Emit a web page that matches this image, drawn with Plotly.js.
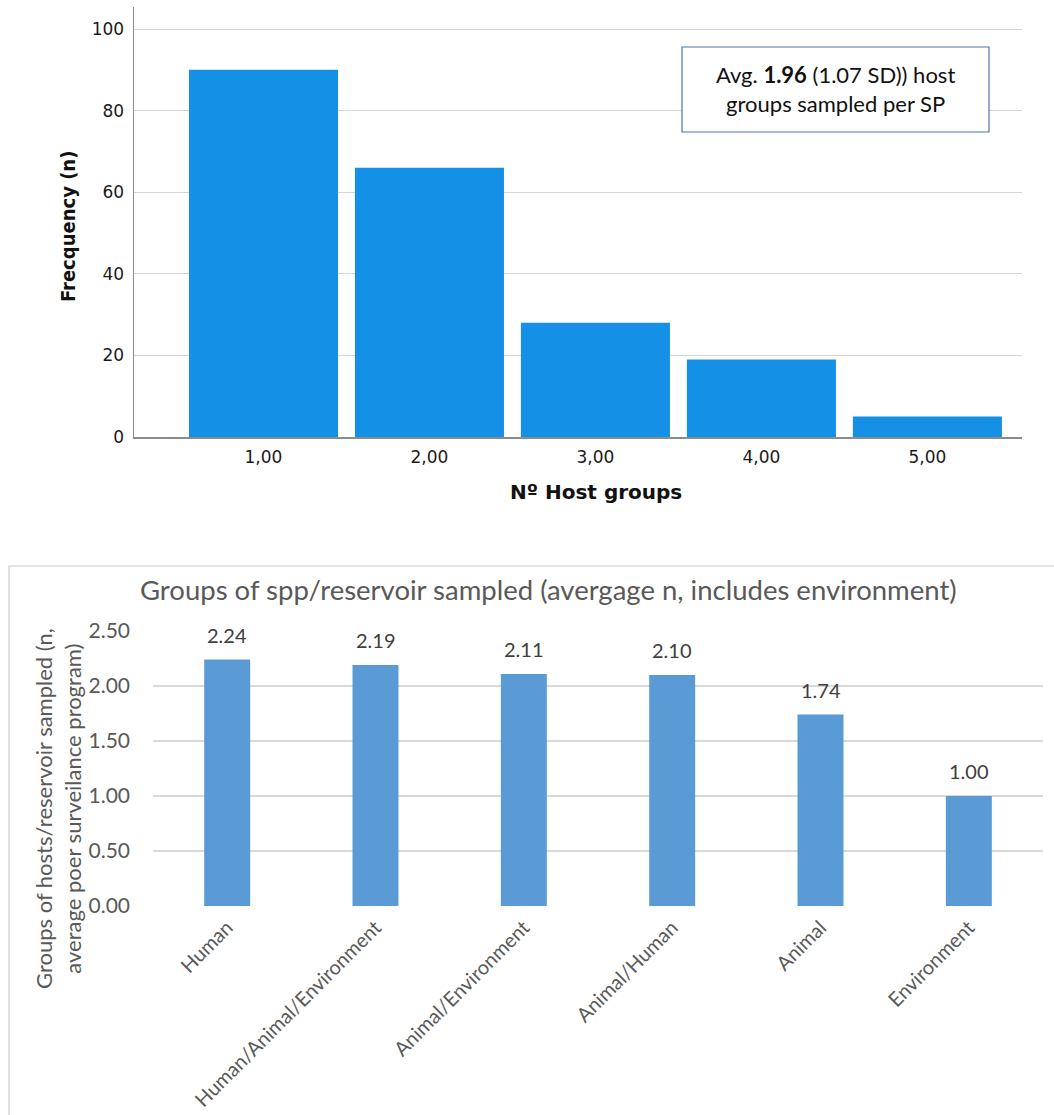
<!DOCTYPE html>
<html>
<head>
<meta charset="utf-8">
<script src="https://cdn.plot.ly/plotly-3.0.1.min.js"></script>
<style>html,body{margin:0;padding:0;background:#fff;}#chart{width:1054px;height:1115px;}</style>
</head>
<body>
<div id="chart"></div>
<script>
// Top chart: frequency of number of host groups
const hostGroupCats = ["1,00", "2,00", "3,00", "4,00", "5,00"];
const hostGroupFreq = [90, 66, 28, 19, 5];
const topYTicks = [0, 20, 40, 60, 80, 100];

// Bottom chart: average groups of hosts/reservoir sampled
const reservoirCats = ["Human", "Human/Animal/Environment", "Animal/Environment", "Animal/Human", "Animal", "Environment"];
const reservoirAvg = [2.24, 2.19, 2.11, 2.10, 1.74, 1.00];
const bottomYTicks = [0, 0.5, 1.0, 1.5, 2.0, 2.5];

const W = 1054, H = 1115;
const px = x => x / W;
const py = y => 1 - y / H;

const SPSS_FONT = "'DejaVu Sans', sans-serif";
const SPSS_COND = "'DejaVu Sans Condensed', 'DejaVu Sans', sans-serif";
const XL_FONT = "Lato, sans-serif";

const traces = [
  {
    type: "bar", x: hostGroupCats, y: hostGroupFreq,
    xaxis: "x", yaxis: "y",
    width: 0.898,
    marker: {color: "#1490e6", line: {width: 0}},
    hoverinfo: "skip", showlegend: false
  },
  {
    type: "bar", x: reservoirCats, y: reservoirAvg,
    xaxis: "x2", yaxis: "y2",
    width: 0.31,
    marker: {color: "#5b9bd5", line: {width: 0}},
    hoverinfo: "skip", showlegend: false
  }
];

const dataLabels = reservoirCats.map((c, i) => ({
  xref: "x2", yref: "y2", x: c, y: reservoirAvg[i],
  text: reservoirAvg[i].toFixed(2),
  showarrow: false, xanchor: "center", yanchor: "bottom", yshift: 11,
  font: {family: XL_FONT, size: 20, color: "#404040"}
}));

const layout = {
  width: W, height: H,
  margin: {l: 0, r: 0, t: 0, b: 0},
  paper_bgcolor: "#ffffff", plot_bgcolor: "#ffffff",
  showlegend: false,
  xaxis: {
    domain: [px(134), px(1022)],
    range: [-0.78, 4.57],
    type: "category",
    showgrid: false, zeroline: false,
    showline: true, linecolor: "#8c8c8c", linewidth: 1.5,
    ticks: "", ticklabelstandoff: 4,
    tickfont: {family: SPSS_FONT, size: 17, color: "#1a1a1a"},
    fixedrange: true
  },
  yaxis: {
    domain: [py(437), py(7)],
    range: [0, 105.4],
    tickvals: topYTicks,
    showgrid: true, gridcolor: "#d4d4d4", gridwidth: 1,
    zeroline: false,
    showline: true, linecolor: "#8c8c8c", linewidth: 1.5,
    ticks: "", ticklabelstandoff: 5,
    tickfont: {family: SPSS_FONT, size: 17, color: "#1a1a1a"},
    fixedrange: true
  },
  xaxis2: {
    domain: [px(153), px(1043)],
    range: [-0.5, 5.5],
    type: "category",
    anchor: "y2",
    showgrid: false, zeroline: false, showline: false,
    ticks: "", tickangle: -45, ticklabelstandoff: 5,
    tickfont: {family: XL_FONT, size: 20, color: "#595959"},
    fixedrange: true
  },
  yaxis2: {
    domain: [py(906), py(631)],
    range: [0, 2.5],
    anchor: "x2",
    tickvals: bottomYTicks,
    tickformat: ".2f",
    showgrid: true, gridcolor: "#d9d9d9", gridwidth: 1.5,
    zeroline: false, showline: false,
    ticks: "", ticklabelstandoff: 22,
    tickfont: {family: XL_FONT, size: 21, color: "#595959"},
    fixedrange: true
  },
  shapes: [
    {type: "rect", xref: "paper", yref: "paper",
     x0: px(682), x1: px(989), y0: py(132), y1: py(47),
     line: {color: "#4a76a8", width: 1.2}, fillcolor: "#ffffff", layer: "above"},
    {type: "rect", xref: "paper", yref: "paper",
     x0: px(9), x1: px(1070), y0: py(1130), y1: py(566),
     line: {color: "#d9d9d9", width: 1.5}, fillcolor: "rgba(0,0,0,0)", layer: "below"}
  ],
  annotations: [
    {xref: "paper", yref: "paper", x: px(835.5), y: py(89.5),
     text: "Avg. <b>1.96</b> (1.07 SD)) host<br>groups sampled per SP",
     showarrow: false, xanchor: "center", yanchor: "middle",
     font: {family: XL_FONT, size: 22, color: "#111111"}},
    {xref: "paper", yref: "paper", x: px(68), y: py(227),
     text: "<b>Frecquency (n)</b>", textangle: -90,
     showarrow: false, xanchor: "center", yanchor: "middle",
     font: {family: SPSS_COND, size: 20, color: "#111111"}},
    {xref: "paper", yref: "paper", x: px(596), y: py(492),
     text: "<b>Nº Host groups</b>",
     showarrow: false, xanchor: "center", yanchor: "middle",
     font: {family: SPSS_FONT, size: 20, color: "#111111"}},
    {xref: "paper", yref: "paper", x: px(548), y: py(589),
     text: "Groups of spp/reservoir sampled (avergage n, includes environment)",
     showarrow: false, xanchor: "center", yanchor: "middle",
     font: {family: XL_FONT, size: 27.5, color: "#595959"}},
    {xref: "paper", yref: "paper", x: px(58), y: py(809),
     text: "Groups of hosts/reservoir sampled (n,<br>average poer surveilance program)", textangle: -90,
     showarrow: false, xanchor: "center", yanchor: "middle",
     font: {family: XL_FONT, size: 22, color: "#595959"}}
  ].concat(dataLabels)
};

Plotly.newPlot("chart", traces, layout, {displayModeBar: false, staticPlot: true});
</script>
</body>
</html>
